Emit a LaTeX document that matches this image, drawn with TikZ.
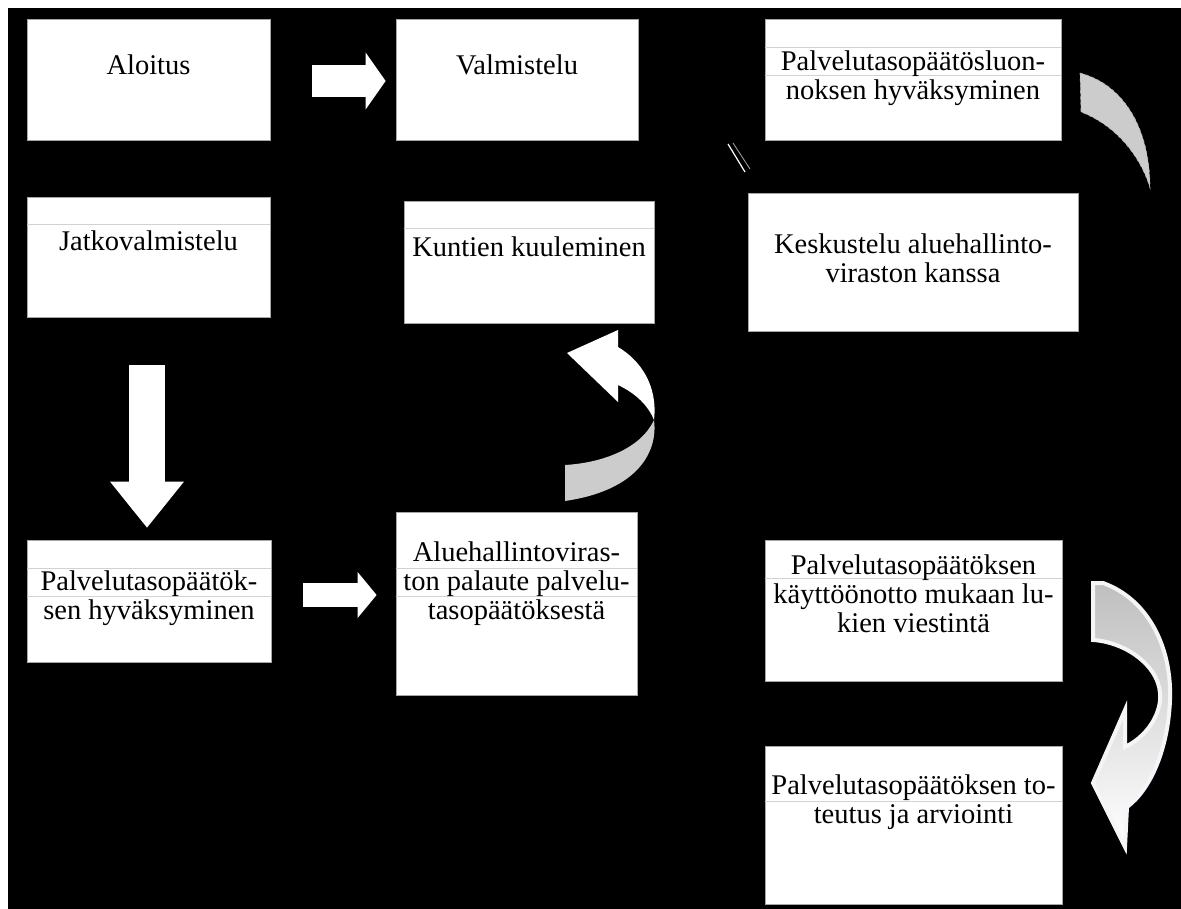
\documentclass[tikz,border=0pt]{standalone}
\usepackage{fontspec}
\setmainfont{Liberation Serif}
\usepackage{tikz}
\usetikzlibrary{positioning,arrows.meta}

\begin{document}
\begin{tikzpicture}[x=1pt,y=-1pt,
box/.style={draw=gray!70,fill=white,line width=0.8pt,inner sep=0pt},
txt/.style={font=\fontsize{28.5pt}{29pt}\selectfont,align=center,inner sep=0pt,anchor=center},
rule/.style={draw=gray!35,line width=0.9pt},
ribbon/.style={fill=gray!40,draw=gray!60,dashed,line width=0.6pt}]
\useasboundingbox (0,0) rectangle (1181,909);
\fill[white] (0,0) rectangle (1181,909);
\fill[black] (8,8) rectangle (1181,909);

\node (aloitus) [box,minimum width=243pt,minimum height=121pt] at (148.5,79.5) {};
\node (valmistelu) [box,minimum width=242pt,minimum height=121pt] at (517,79.5) {};
\node (luonnos) [box,minimum width=296pt,minimum height=121pt] at (913,79.5) {};
\node (jatko) [box,minimum width=243pt,minimum height=120pt] at (148.5,257) {};
\node (kuntien) [box,minimum width=250pt,minimum height=122pt] at (529,262) {};
\node (keskustelu) [box,minimum width=330pt,minimum height=138pt] at (913,262) {};
\node (palvhyv) [box,minimum width=244pt,minimum height=122pt] at (149,601) {};
\node (alupal) [box,minimum width=241pt,minimum height=183pt] at (516.5,603.5) {};
\node (kaytto) [box,minimum width=297pt,minimum height=141pt] at (913.5,610.5) {};
\node (toteutus) [box,minimum width=297pt,minimum height=158pt] at (913.5,825) {};

\draw[rule] ([yshift=-29pt]luonnos.north west) -- ([yshift=-29pt]luonnos.north east);
\draw[rule] ([yshift=-57pt]luonnos.north west) -- ([yshift=-57pt]luonnos.north east);
\draw[rule] ([yshift=-28pt]jatko.north west) -- ([yshift=-28pt]jatko.north east);
\draw[rule] ([yshift=-28pt]kuntien.north west) -- ([yshift=-28pt]kuntien.north east);
\draw[rule] ([yshift=-29pt]palvhyv.north west) -- ([yshift=-29pt]palvhyv.north east);
\draw[rule] ([yshift=-57pt]palvhyv.north west) -- ([yshift=-57pt]palvhyv.north east);
\draw[rule] ([yshift=-57pt]alupal.north west) -- ([yshift=-57pt]alupal.north east);
\draw[rule] ([yshift=-85pt]alupal.north west) -- ([yshift=-85pt]alupal.north east);
\draw[rule] ([yshift=-39pt]kaytto.north west) -- ([yshift=-39pt]kaytto.north east);
\draw[rule] ([yshift=-56pt]toteutus.north west) -- ([yshift=-56pt]toteutus.north east);

\node [txt,below=46pt of aloitus.north,anchor=center] {Aloitus};
\node [txt,below=46pt of valmistelu.north,anchor=center] {Valmistelu};
\node [txt,below=59.5pt of luonnos.north,anchor=center] {Palvelutasopäätösluon-\\noksen hyväksyminen};
\node [txt,below=44pt of jatko.north,anchor=center] {Jatkovalmistelu};
\node [txt,below=46pt of kuntien.north,anchor=center] {Kuntien kuuleminen};
\node [txt,below=66pt of keskustelu.north,anchor=center] {Keskustelu aluehallinto-\\viraston kanssa};
\node [txt,below=59pt of palvhyv.north,anchor=center] {Palvelutasopäätök-\\sen hyväksyminen};
\node [txt,below=72pt of alupal.north,anchor=center] {Aluehallintoviras-\\ton palaute palvelu-\\tasopäätöksestä};
\node [txt,below=54pt of kaytto.north,anchor=center] {Palvelutasopäätöksen\\käyttöönotto mukaan lu-\\kien viestintä};
\node [txt,below=56.5pt of toteutus.north,anchor=center] {Palvelutasopäätöksen to-\\teutus ja arviointi};

\draw[white,line width=32pt,-{Triangle[width=57pt,length=20pt,line width=0pt]},shorten <=42pt,shorten >=10pt]
  ([yshift=-1.5pt]aloitus.east) -- ([yshift=-1.5pt]valmistelu.west);
\draw[white,line width=36pt,-{Triangle[width=74pt,length=46pt,line width=0pt]},shorten <=48pt,shorten >=12pt]
  ([xshift=-1.5pt]jatko.south) -- ([xshift=-2pt]palvhyv.north);
\draw[white,line width=24pt,-{Triangle[width=46pt,length=19pt,line width=0pt]},shorten <=32pt,shorten >=19pt]
  ([yshift=6pt]palvhyv.east) -- ([yshift=8.5pt]alupal.west);

\draw[white,line width=1.2pt] (728,144) -- (745,172);
\draw[gray!70,line width=0.8pt] (733,143) -- (750,169);

\path[ribbon] (1080,73) .. controls (1125,85) and (1150,130) .. (1150,188)
  .. controls (1140,155) and (1115,125) .. (1081,112) -- cycle;

\fill[gray!40] (565,465) .. controls (600,463) and (640,450) .. (654,420)
  .. controls (658,450) and (640,490) .. (565,501) -- cycle;
\fill[white] (654,420) .. controls (648,405) and (635,393) .. (618,385) -- (618,402) -- (567,353)
  -- (618,330) -- (618,347) .. controls (640,360) and (658,385) .. (654,420) -- cycle;

\fill[black!70!blue!40!black,shift={(2pt,-2pt)}]
  (1093,583) -- (1103,583) .. controls (1150,600) and (1172,650) .. (1170,700)
  .. controls (1168,750) and (1150,790) .. (1127,807) -- (1125,847) -- (1093,783) -- (1125,710)
  -- (1125,747) .. controls (1150,735) and (1162,710) .. (1160,693)
  .. controls (1158,665) and (1125,642) .. (1093,640) -- cycle;
\path[draw=gray!8,line width=4pt,line join=miter,top color=gray!50,middle color=gray!12,bottom color=white]
  (1093,583) -- (1103,583) .. controls (1150,600) and (1172,650) .. (1170,700)
  .. controls (1168,750) and (1150,790) .. (1127,807) -- (1125,847) -- (1093,783) -- (1125,710)
  -- (1125,747) .. controls (1150,735) and (1162,710) .. (1160,693)
  .. controls (1158,665) and (1125,642) .. (1093,640) -- cycle;
\end{tikzpicture}
\end{document}
